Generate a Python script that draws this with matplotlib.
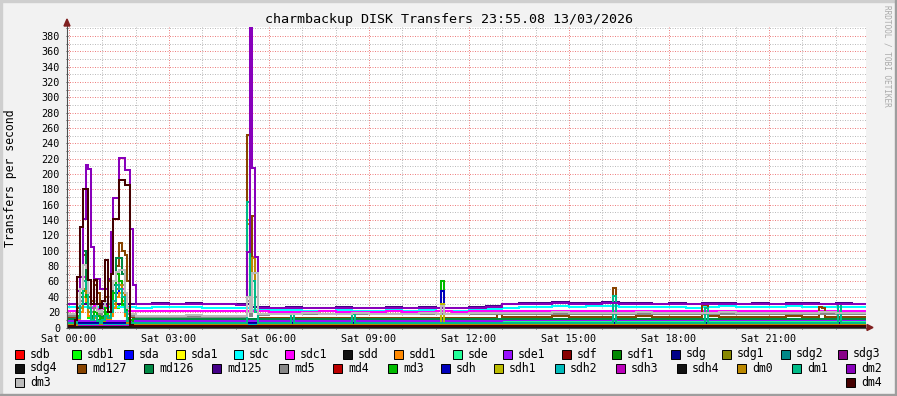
import numpy as np
import matplotlib.pyplot as plt
from matplotlib.patches import Rectangle, Polygon
from matplotlib.ticker import MultipleLocator, FixedLocator

plt.rcParams['font.family'] = ['DejaVu Sans Mono']

title = "charmbackup DISK Transfers 23:55.08 13/03/2026"
ylabel = "Transfers per second"

# 5 min steps, hours relative to Sat 00:00 (first step = Fri 23:55)
step_h = 5 / 60
t = np.arange(-1, 288) * step_h
t_end = 23.917

xtick_hours = [0, 3, 6, 9, 12, 15, 18, 21]
xtick_labels = ["Sat 00:00", "Sat 03:00", "Sat 06:00", "Sat 09:00",
                "Sat 12:00", "Sat 15:00", "Sat 18:00", "Sat 21:00"]

# half-hourly levels 00:00..23:30 (or one level for the flat ones)
dm2_h = [30, 30, 30, 30, 30, 31, 30, 31, 30, 30, 29, 26,
         25, 26, 25, 25, 26, 25, 25, 26, 25, 26, 25, 25,
         26, 27, 30, 31, 31, 32, 31, 31, 32, 31, 31, 30,
         31, 30, 31, 31, 30, 31, 30, 31, 31, 30, 31, 30]
md125_h = [31, 31, 31, 31, 31, 32, 31, 32, 31, 31, 30, 27,
           26, 27, 26, 26, 27, 26, 26, 27, 26, 27, 26, 26,
           27, 28, 31, 32, 32, 33, 32, 32, 33, 32, 32, 31,
           32, 31, 32, 32, 31, 32, 31, 32, 32, 31, 32, 31]
sdc_h = [27, 27, 27, 27, 26, 27, 27, 27, 26, 26, 26, 23,
         23, 23, 22, 22, 23, 22, 22, 23, 22, 23, 22, 22,
         23, 24, 26, 27, 27, 28, 27, 28, 28, 27, 27, 27,
         27, 26, 27, 28, 27, 27, 27, 28, 27, 27, 27, 27]
sdc1_h = [22, 22, 22, 22, 22, 22, 22, 22, 22, 22, 22, 21,
          20, 20, 20, 21, 20, 20, 20, 21, 20, 20, 21, 20,
          21, 21, 21, 21, 22, 21, 21, 21, 21, 22, 21, 21,
          21, 21, 22, 21, 21, 21, 21, 21, 22, 21, 21, 21]
dm3_h = [17, 17, 17, 17, 15, 15, 15, 16, 15, 15, 15, 18,
         18, 18, 19, 18, 18, 19, 18, 18, 18, 19, 18, 18,
         19, 19, 19, 19, 19, 20, 19, 19, 19, 19, 20, 19,
         19, 19, 19, 20, 19, 19, 19, 19, 19, 20, 19, 19]
md5_h = [15, 15, 15, 15, 14, 14, 14, 14, 14, 14, 14, 16,
         17, 17, 17, 17, 17, 17, 17, 17, 17, 17, 17, 17,
         17, 17, 18, 18, 18, 18, 18, 18, 18, 18, 18, 18,
         18, 18, 18, 18, 18, 18, 18, 18, 18, 18, 18, 18]
md127_h = [13, 13, 13, 13, 13, 13, 14, 13, 13, 13, 13, 12,
           12, 12, 12, 13, 12, 12, 12, 12, 13, 12, 12, 12,
           12, 13, 14, 14, 14, 15, 14, 14, 14, 14, 15, 14,
           14, 14, 15, 14, 14, 14, 14, 15, 14, 14, 14, 14]
sde1_h = [9, 9, 9, 9, 9, 9, 9, 9, 9, 9, 9, 9,
          9, 9, 9, 9, 9, 9, 9, 9, 9, 9, 9, 9,
          9, 9, 10, 10, 10, 10, 10, 10, 10, 10, 10, 10,
          10, 10, 10, 10, 10, 10, 10, 10, 10, 10, 10, 10]
md3_h = 3
md126_h = 11.5
sde_h = 8
dm1_h = 6.5
sdb_h = 0.5
sdb1_h = 3
sda_h = 4
sda1_h = 1
sdd_h = 0.5
sdd1_h = 2
sdf_h = 1
sdf1_h = 3
sdg_h = 5.5
sdg1_h = 1
sdg2_h = 4
sdg3_h = 2
sdg4_h = 0.5
md4_h = 1
sdh_h = 4.5
sdh1_h = 1
sdh2_h = 3.5
sdh3_h = 2
sdh4_h = 0.5
dm0_h = 3
dm4_h = 2

# bursts: (start HH:MM, values of consecutive 5 min steps)
dm2_burst = [("00:15", [47, 66, 141, 212, 207, 105, 63, 63, 50, 50, 50, 63, 125, 169, 169, 221, 221, 206, 206, 128, 55]),
             ("05:20", [99, 390, 208, 92])]
dm4_burst = [("00:10", [10, 66, 131, 180, 180, 62, 30, 62, 30, 25, 35, 88, 20, 70, 142, 142, 192, 192, 186, 186, 3])]
md127_burst = [("00:10", [15, 25, 45, 95, 90, 40, 35, 55, 45, 30, 20, 40, 60, 35, 55, 80, 110, 100, 95, 60, 14]),
               ("05:20", [251, 30, 145, 40]),
               ("12:50", [18, 18]),
               ("16:20", [51]),
               ("19:00", [29, 29]),
               ("22:30", [27, 25])]
dm3_burst = [("00:10", [17, 30, 50, 81, 78, 45, 30, 35, 22, 20, 28, 35, 40, 50, 60, 72, 75, 75, 45, 25, 17]),
             ("05:20", [40, 20, 71, 71]),
             ("11:10", [28])]
md5_burst = [("00:10", [15, 22, 35, 60, 55, 30, 20, 25, 18, 16, 20, 25, 30, 35, 45, 55, 60, 55, 30, 18, 15]),
             ("05:20", [35, 15, 60, 40])]
md126_burst = [("00:10", [5, 20, 40, 100, 63, 20, 15, 25, 10, 8, 15, 20, 30, 40, 55, 90, 90, 70, 35, 10, 5])]
md3_burst = [("00:10", [10, 30, 45, 47, 40, 25, 12, 20, 15, 10, 12, 25, 20, 30, 45, 70, 60, 30, 25, 12, 10]),
             ("11:10", [61])]
sdb1_burst = [("00:10", [3, 15, 45, 47, 30, 12, 8, 15, 10, 5, 8, 18, 12, 20, 30, 25, 30, 28, 20, 8, 3])]
dm1_burst = [("00:10", [6, 12, 30, 60, 50, 25, 10, 15, 8, 6, 10, 15, 12, 20, 35, 55, 50, 40, 20, 8, 6]),
             ("05:20", [164, 20, 60, 20]),
             ("06:40", [18]),
             ("08:30", [17]),
             ("16:20", [41]),
             ("19:05", [26]),
             ("23:05", [30])]
sdd1_burst = [("00:10", [2, 10, 20, 40, 35, 15, 8, 12, 6, 4, 6, 10, 10, 15, 25, 40, 45, 35, 15, 5, 2]),
              ("05:20", [140, 20, 92, 20])]
dm0_burst = [("00:10", [3, 12, 25, 50, 45, 20, 10, 15, 8, 5, 8, 12, 15, 20, 30, 50, 55, 45, 20, 6, 3]),
             ("05:20", [135, 20, 90, 20])]
sda_burst = [("00:10", [4, 10, 20, 60, 55, 20, 8, 12, 6, 5, 6, 10, 12, 15, 25, 45, 50, 40, 15, 5, 4])]
sdc1_burst = [("00:10", [22, 25, 35, 66, 50, 30, 25, 28, 24, 22, 24, 28, 30, 35, 45, 55, 60, 50, 30, 22, 22])]
sdh_burst = [("11:10", [47])]
sdh1_burst = [("11:10", [31])]

names = ["sdb", "sdb1", "sda", "sda1", "sdc", "sdc1", "sdd", "sdd1", "sde", "sde1",
         "sdf", "sdf1", "sdg", "sdg1", "sdg2", "sdg3", "sdg4", "md127", "md126", "md125",
         "md5", "md4", "md3", "sdh", "sdh1", "sdh2", "sdh3", "sdh4", "dm0", "dm1",
         "dm2", "dm3", "dm4"]
colors = ["#ff0000", "#00ff00", "#0000ff", "#ffff00", "#00ffff", "#ff00ff", "#111111", "#ff8800",
          "#22ff99", "#9911ff", "#880000", "#008800", "#000088", "#888800", "#008888", "#880088",
          "#111111", "#884400", "#008844", "#440088", "#888888", "#bb0000", "#00bb00", "#0000bb",
          "#bbbb00", "#00bbbb", "#bb00bb", "#111111", "#bb8800", "#00bb88", "#8800bb", "#bbbbbb",
          "#440000"]

levels = {n: globals()[n + "_h"] for n in names}
bursts = {n: globals().get(n + "_burst", []) for n in names}


def build(level, burst):
    half_idx = np.clip(np.floor(t * 2).astype(int), 0, 47)
    if np.isscalar(level):
        v = np.full(len(t), float(level))
    else:
        v = np.asarray(level, float)[half_idx]
    for start, vals in burst:
        hh, mm = start.split(":")
        i0 = int(hh) * 12 + int(mm) // 5 + 1
        v[i0:i0 + len(vals)] = vals
    return v


W, H = 897, 396
fig = plt.figure(figsize=(W / 100, H / 100), dpi=100)
fig.patch.set_facecolor("#f2f2f2")
# 3d frame
fig.patches.append(Rectangle((0, 1 - 2 / H), 1, 2 / H, transform=fig.transFigure, color="#cfcfcf"))
fig.patches.append(Rectangle((0, 0), 2 / W, 1, transform=fig.transFigure, color="#cfcfcf"))
fig.patches.append(Rectangle((0, 0), 1, 2 / H, transform=fig.transFigure, color="#9e9e9e"))
fig.patches.append(Rectangle((1 - 2 / W, 0), 2 / W, 1, transform=fig.transFigure, color="#9e9e9e"))

ax = fig.add_axes([67 / W, 68.5 / H, (866 - 67) / W, (327.5 - 27) / H])
ax.set_facecolor("white")

for i, n in enumerate(names):
    v = build(levels[n], bursts[n])
    tt = np.append(t, t_end)
    vv = np.append(v, v[-1])
    ax.step(tt, vv, where="post", color=colors[i], lw=1.45, zorder=3 + i,
            solid_joinstyle="miter", solid_capstyle="butt")

ax.set_xlim(-0.06, 23.91)
ax.set_ylim(0, 391.8)

ax.xaxis.set_major_locator(FixedLocator(xtick_hours))
ax.set_xticklabels(xtick_labels)
ax.xaxis.set_minor_locator(MultipleLocator(1))
ax.yaxis.set_major_locator(MultipleLocator(20))
ax.yaxis.set_minor_locator(MultipleLocator(10))
ax.grid(True, which="minor", color="#bcbcbc", lw=0.72, ls=(0, (1, 1.5)), zorder=1)
ax.grid(True, which="major", color="#ee8080", lw=0.72, ls=(0, (1, 1.5)), zorder=2)
ax.tick_params(which="both", length=2, width=0.7, color="#4f4f4f", direction="inout",
               labelsize=7.3, pad=4)

for s in ["top", "right", "left", "bottom"]:
    ax.spines[s].set_visible(False)

# axes with arrows, rrdtool style
axis_c = "#4f4f4f"
arrow_c = "#7f1f1f"
x0, y0 = 67 / W, 1 - 327.5 / H
fig.add_artist(plt.Line2D([x0, 868 / W], [y0, y0], color=axis_c, lw=0.8, transform=fig.transFigure, zorder=50))
fig.add_artist(plt.Line2D([x0, x0], [y0, 1 - 22 / H], color=axis_c, lw=0.8, transform=fig.transFigure, zorder=50))
fig.add_artist(Polygon([[867 / W, 1 - 324.5 / H], [873 / W, y0], [867 / W, 1 - 330.5 / H]],
                       closed=True, transform=fig.transFigure, color=arrow_c, zorder=51))
fig.add_artist(Polygon([[64 / W, 1 - 26 / H], [x0, 1 - 19 / H], [70 / W, 1 - 26 / H]],
                       closed=True, transform=fig.transFigure, color=arrow_c, zorder=51))

fig.text(0.5, 1 - 19 / H, title, ha="center", va="center", fontsize=9.6)
fig.text(11 / W, 1 - 178 / H, ylabel, rotation=90, ha="center", va="center", fontsize=8.3)
fig.text(887 / W, 1 - 5 / H, "RRDTOOL / TOBI OETIKER", rotation=270, ha="center", va="top",
         fontsize=5.6, color="#aaaaaa")

# legend
row_y = [354, 368, 382]
row_x = [[15, 72, 124, 176, 234, 285, 343, 394, 453, 503, 562, 612, 671, 722, 781, 838],
         [15, 77, 144, 212, 279, 333, 388, 441, 494, 555, 616, 677, 737, 792, 846],
         [15, 846]]
k = 0
for r, xs in enumerate(row_x):
    for x in xs:
        y = row_y[r]
        fig.patches.append(Rectangle((x / W, 1 - (y + 4.5) / H), 9 / W, 9 / H, transform=fig.transFigure,
                                     facecolor=colors[k], edgecolor="black", lw=0.7))
        fig.text((x + 15) / W, 1 - y / H, names[k], ha="left", va="center", fontsize=8.3)
        k += 1

fig.savefig("out.png", dpi=100, facecolor=fig.get_facecolor())
